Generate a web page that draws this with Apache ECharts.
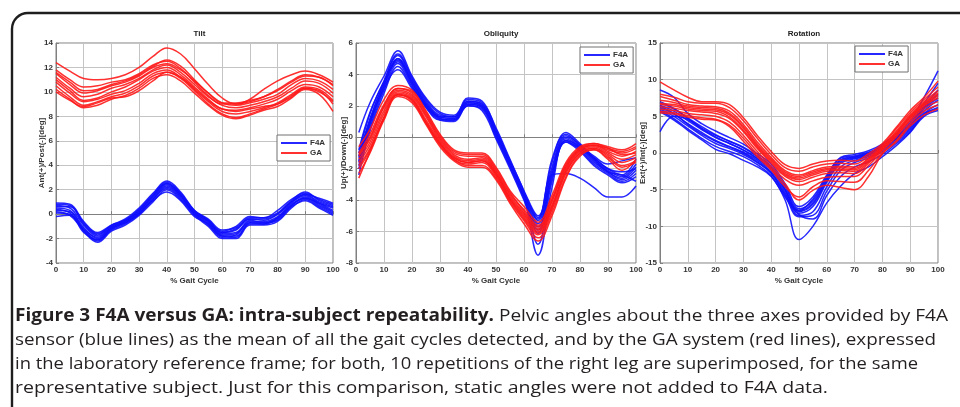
<!DOCTYPE html>
<html><head><meta charset="utf-8">
<script src="https://cdn.jsdelivr.net/npm/echarts@6/dist/echarts.min.js"></script>
<style>html,body{margin:0;padding:0;background:#fff}#c{width:960px;height:407px}</style>
</head><body><div id="c"></div>
<script>
// ---------- DATA ----------
const gaitPct  = [0,5,10,15,20,25,30,35,40,45,50,55,60,65,70,75,80,85,90,95,100];
const obliqPct = [1,5,10,15,20,25,30,35,40,45,50,55,60,65,70,75,80,85,90,95,100];

const panelTitles = ['Tilt', 'Obliquity', 'Rotation'];
const yNames = ['Ant(+)/Post(-)[deg]', 'Up(+)/Down(-)[deg]', 'Ext(+)/Int(-)[deg]'];
const xName = '% Gait Cycle';
const seriesNames = ['F4A', 'GA'];
const tiltTicks  = [-4, 14, 2];
const obliqTicks = [-8, 6, 2];
const rotTicks   = [-15, 15, 5];
const xTicks     = [0, 100, 10];

const tiltF4A = [
  [0.9, 0.8,-0.6,-1.5,-0.9,-0.4, 0.5, 1.7, 2.7, 1.8, 0.3,-0.5,-1.4,-1.0,-0.2,-0.3, 0.3, 1.2, 1.7, 1.2, 0.8],
  [0.7, 0.5,-0.9,-1.8,-1.0,-0.6, 0.3, 1.5, 2.5, 1.6, 0.2,-0.6,-1.5,-1.2,-0.4,-0.5, 0.0, 1.0, 1.6, 1.0, 0.6],
  [0.5, 0.3,-1.1,-2.0,-1.1,-0.6, 0.2, 1.4, 2.4, 1.5, 0.1,-0.7,-1.6,-1.5,-0.6,-0.6,-0.2, 0.9, 1.5, 0.9, 0.3],
  [0.3, 0.2,-1.3,-2.2,-1.3,-0.8, 0.0, 1.2, 2.2, 1.4, 0.0,-0.9,-1.8,-1.8,-0.8,-0.8,-0.4, 0.7, 1.4, 0.8, 0.2],
  [0.1, 0.0,-1.4,-2.3,-1.4,-0.9,-0.1, 1.0, 2.0, 1.2,-0.1,-1.0,-2.0,-2.0,-0.9,-0.9,-0.6, 0.5, 1.2, 0.6, 0.0],
  [-0.2,-0.1,-1.5,-2.1,-1.2,-0.7, 0.1, 1.1, 1.8, 1.1,-0.2,-0.8,-1.9,-1.7,-0.7,-0.7,-0.5, 0.6, 1.1, 0.5,-0.1],
  [0.6, 0.6,-0.8,-1.7,-0.9,-0.5, 0.4, 1.6, 2.6, 1.7, 0.3,-0.4,-1.3,-1.1,-0.3,-0.3, 0.1, 1.1, 1.8, 1.1, 0.7],
  [0.4, 0.1,-1.2,-1.9,-1.1,-0.7, 0.1, 1.3, 2.3, 1.5, 0.1,-0.6,-1.7,-1.6,-0.5,-0.7,-0.3, 0.8, 1.3, 0.9, 0.5],
  [0.8, 0.7,-0.7,-1.6,-1.0,-0.5, 0.3, 1.5, 2.5, 1.6, 0.2,-0.5,-1.5,-1.3,-0.4,-0.4, 0.0, 1.0, 1.6, 1.3, 0.9],
  [0.2,-0.1,-1.3,-2.1,-1.2,-0.7, 0.0, 1.2, 2.1, 1.3, 0.0,-0.8,-1.8,-1.9,-0.7,-0.8,-0.3, 0.7, 1.3, 0.7, 0.1]
];
const tiltGA = [
  [12.4,11.7,11.1,11.0,11.1,11.4,12.0,12.9,13.6,13.1,11.9,10.6, 9.5, 9.0, 9.2, 9.6,10.2,10.9,11.4,11.2,10.6],
  [11.8,11.0,10.4,10.5,10.8,11.0,11.5,12.2,12.5,11.9,10.8, 9.7, 9.0, 9.0, 9.4,10.2,10.9,11.4,11.7,11.4,10.8],
  [11.5,10.6, 9.9,10.1,10.5,10.8,11.3,12.0,12.3,11.8,10.9, 9.9, 9.1, 8.9, 9.1, 9.4, 9.8,10.6,11.1,10.9,10.2],
  [11.2,10.3, 9.6, 9.8,10.3,10.6,11.1,11.8,12.2,11.6,10.6, 9.6, 8.9, 8.7, 8.9, 9.2, 9.6,10.3,10.9,10.7, 9.9],
  [11.0,10.1, 9.3, 9.5,10.0,10.4,11.0,11.7,12.0,11.4,10.4, 9.4, 8.6, 8.5, 8.7, 9.0, 9.4,10.1,10.6,10.4, 9.6],
  [10.8, 9.9, 9.2, 9.4, 9.8,10.1,10.7,11.5,11.8,11.2,10.2, 9.2, 8.4, 8.2, 8.4, 8.7, 9.1, 9.8,10.4,10.2, 9.3],
  [10.5, 9.6, 8.9, 9.2, 9.6, 9.9,10.5,11.3,11.6,11.1,10.1, 9.0, 8.2, 7.9, 8.2, 8.6, 9.0, 9.7,10.3,10.1, 9.0],
  [10.2, 9.4, 8.7, 8.9, 9.4, 9.7,10.3,11.1,11.4,10.9, 9.9, 8.9, 8.1, 7.8, 8.1, 8.5, 8.8, 9.5,10.2, 9.8, 8.4],
  [10.0, 9.3, 8.8, 9.1, 9.5, 9.6,10.1,10.9,11.6,11.2,10.3, 9.3, 8.6, 8.4, 8.6, 8.8, 9.0, 9.6,10.3,10.0, 9.2],
  [11.6,10.8,10.1,10.2,10.6,10.9,11.4,12.1,12.6,12.1,11.0, 9.9, 9.1, 9.1, 9.3, 9.6,10.1,10.8,11.3,11.2,10.5]
];
const obliqF4A = [
  [0.3, 2.2, 3.9, 5.5, 3.9, 2.5, 1.6, 1.4, 2.4, 2.2, 0.6,-1.4,-3.4,-5.0,-1.6, 0.3,-0.4,-1.3,-2.0,-2.4,-1.4],
  [-1.0, 1.5, 3.6, 5.2, 3.7, 2.3, 1.4, 1.3, 2.3, 2.1, 0.4,-1.6,-3.6,-5.3,-1.9, 0.1,-0.5,-1.4,-2.1,-2.5,-1.7],
  [-1.3, 1.2, 3.4, 5.0, 3.5, 2.1, 1.3, 1.2, 2.2, 2.0, 0.3,-1.7,-3.7,-5.5,-2.1, 0.0,-0.6,-1.5,-2.2,-2.6,-1.9],
  [-1.6, 0.9, 3.2, 4.9, 3.4, 2.0, 1.2, 1.1, 2.1, 1.9, 0.2,-1.8,-3.8,-5.7,-2.3,-0.1,-0.7,-1.6,-2.2,-2.7,-2.1],
  [-2.0, 0.6, 3.0, 4.7, 3.3, 1.9, 1.1, 1.1, 2.0, 1.8, 0.0,-1.9,-3.9,-5.9,-2.4,-0.2,-0.8,-1.7,-2.3,-2.8,-2.3],
  [-2.4, 0.4, 2.8, 4.5, 3.2, 1.9, 1.1, 1.0, 2.0, 1.7,-0.1,-2.0,-4.0,-6.1,-2.6,-0.3,-0.9,-1.8,-2.4,-2.9,-2.5],
  [-1.2, 1.0, 3.1, 4.3, 3.1, 2.0, 1.3, 1.3, 2.5, 2.3, 0.5,-1.5,-3.5,-6.8,-2.8,-0.3,-0.7,-1.3,-2.0,-2.2,-2.0],
  [-1.8, 0.8, 3.3, 5.0, 3.6, 2.2, 1.3, 1.2, 2.2, 2.0, 0.2,-1.7,-3.8,-7.5,-3.2,-0.2,-0.6,-1.4,-2.2,-2.4,-2.8],
  [-0.8, 1.6, 3.5, 4.8, 3.5, 2.1, 1.2, 1.1, 2.1, 1.9, 0.1,-1.8,-3.6,-5.2,-2.4,-2.3,-2.6,-3.2,-3.8,-3.8,-3.1],
  [-1.5, 1.1, 3.5, 5.3, 3.8, 2.4, 1.5, 1.3, 2.3, 2.1, 0.4,-1.5,-3.5,-5.1,-1.4, 0.2,-0.5,-1.2,-1.7,-1.5,-1.3]
];
const obliqGA = [
  [-0.6, 0.5, 2.4, 3.3, 3.0, 1.7, 0.2,-0.8,-1.0,-1.0,-1.9,-3.4,-4.4,-5.4,-3.7,-1.6,-0.6,-0.4,-0.6,-0.8,-0.4],
  [-1.0, 0.2, 2.1, 3.1, 2.8, 1.5, 0.0,-1.0,-1.2,-1.2,-2.1,-3.6,-4.6,-5.6,-3.9,-1.8,-0.7,-0.5,-0.8,-1.0,-0.7],
  [-1.2,-0.1, 1.9, 3.0, 2.7, 1.4,-0.1,-1.1,-1.4,-1.3,-2.2,-3.7,-4.8,-5.8,-4.1,-1.9,-0.8,-0.5,-0.9,-1.2,-0.9],
  [-1.4,-0.3, 1.7, 2.9, 2.6, 1.3,-0.2,-1.2,-1.5,-1.4,-2.3,-3.8,-4.9,-5.9,-4.3,-2.1,-0.9,-0.6,-1.0,-1.4,-1.1],
  [-1.6,-0.5, 1.5, 2.8, 2.5, 1.1,-0.3,-1.3,-1.6,-1.5,-2.4,-3.9,-5.0,-6.0,-4.4,-2.2,-1.0,-0.7,-1.1,-1.6,-1.3],
  [-1.8,-0.7, 1.3, 2.7, 2.4, 1.0,-0.4,-1.4,-1.7,-1.6,-2.5,-4.0,-5.2,-6.2,-4.6,-2.3,-1.0,-0.7,-1.2,-1.8,-1.5],
  [-2.0,-0.8, 1.2, 2.7, 2.3, 0.9,-0.5,-1.4,-1.8,-1.8,-2.6,-4.1,-5.3,-6.4,-4.8,-2.5,-1.1,-0.8,-1.3,-1.9,-1.6],
  [-2.3,-1.0, 1.1, 2.6, 2.2, 0.8,-0.6,-1.5,-1.9,-1.9,-2.7,-4.2,-5.5,-6.6,-5.0,-2.6,-1.2,-0.8,-1.4,-2.1,-1.4],
  [-2.6,-0.9, 1.2, 2.7, 2.4, 0.9,-0.4,-1.3,-1.6,-1.5,-2.3,-3.9,-5.1,-6.1,-4.5,-2.0,-0.8,-0.5,-0.7,-1.1,-1.0],
  [-1.1, 0.0, 2.0, 3.1, 2.9, 1.6, 0.1,-0.9,-1.1,-1.1,-2.0,-3.5,-4.7,-5.7,-4.0,-1.7,-0.7,-0.4,-0.7,-0.9,-0.6]
];
const rotF4A = [
  [8.6, 7.6, 5.4, 4.0, 3.0, 2.1, 1.2,-0.1,-1.5,-4.2, -7.3, -6.0,-3.0,-0.6,-0.2, 0.3, 1.2, 2.6, 4.4, 7.6,11.2],
  [2.9, 5.0, 4.6, 3.4, 2.4, 1.6, 0.8,-0.4,-1.8,-4.5, -7.6, -6.5,-3.4,-0.9,-0.5, 0.0, 1.0, 2.3, 4.1, 6.8, 9.5],
  [6.8, 6.0, 4.8, 3.6, 2.5, 1.6, 0.7,-0.5,-2.0,-4.9, -7.9, -6.8,-3.6,-1.0,-0.6,-0.1, 0.8, 2.1, 3.8, 6.2, 8.0],
  [6.5, 5.7, 4.4, 3.2, 2.1, 1.3, 0.4,-0.8,-2.3,-5.1, -8.2, -7.3,-4.0,-1.4,-0.8,-0.3, 0.6, 1.9, 3.5, 5.7, 7.2],
  [6.2, 5.3, 4.0, 2.8, 1.7, 0.9, 0.1,-1.0,-2.6,-5.4, -8.5, -8.0,-4.6,-1.9,-1.0,-0.5, 0.4, 1.7, 3.3, 5.4, 6.6],
  [6.0, 5.0, 3.7, 2.4, 1.3, 0.6,-0.2,-1.3,-2.8,-5.8, -8.7, -8.5,-5.2,-2.4,-1.3,-0.7, 0.2, 1.5, 3.1, 5.2, 6.2],
  [5.8, 4.7, 3.3, 2.0, 0.9, 0.2,-0.5,-1.6,-3.1,-6.4,-11.8,-10.0,-6.8,-4.5,-2.8,-1.9,-0.5, 1.0, 2.8, 5.0, 5.8],
  [7.0, 6.1, 4.7, 3.3, 2.2, 1.3, 0.4,-0.7,-2.2,-5.0, -8.0, -7.0,-3.8,-1.2,-0.7,-0.2, 0.7, 2.0, 3.6, 6.0, 7.5],
  [6.4, 5.4, 3.9, 2.6, 1.6, 0.8, 0.0,-1.2,-2.7,-5.6, -7.8, -6.3,-3.2,-0.7,-0.4, 0.1, 0.9, 2.2, 3.9, 6.4, 8.6],
  [5.6, 4.5, 3.1, 1.8, 0.5,-0.1,-1.0,-1.9,-3.2,-6.0, -8.4, -9.0,-5.8,-3.2,-1.9,-1.2,-0.2, 1.3, 2.9, 5.3, 6.0]
];
const rotGA = [
  [9.7, 8.6, 7.6, 7.0, 7.0, 6.6, 4.8, 2.4, 0.2,-1.6,-2.1,-1.5,-1.1,-1.0,-1.1,-0.1, 1.3, 3.5, 5.8, 7.6, 9.8],
  [8.0, 7.6, 7.0, 6.8, 6.8, 6.2, 4.4, 2.0,-0.2,-2.0,-2.5,-1.9,-1.5,-1.4,-1.5,-0.4, 1.1, 3.3, 5.5, 7.3, 9.0],
  [7.7, 7.2, 6.6, 6.4, 6.3, 5.7, 3.9, 1.5,-0.6,-2.4,-3.0,-2.4,-1.9,-1.8,-1.9,-0.7, 0.9, 3.0, 5.2, 7.0, 8.5],
  [6.8, 6.6, 6.2, 6.0, 5.9, 5.2, 3.4, 1.0,-1.0,-2.8,-3.4,-2.8,-2.3,-2.2,-2.3,-1.0, 0.7, 2.7, 4.9, 6.7, 8.0],
  [6.3, 6.1, 5.8, 5.6, 5.4, 4.7, 2.9, 0.6,-1.4,-3.2,-3.9,-3.3,-2.8,-2.7,-2.8,-1.4, 0.5, 2.4, 4.6, 6.4, 7.5],
  [6.0, 5.8, 5.4, 5.2, 5.0, 4.2, 2.4, 0.2,-1.8,-3.6,-4.4,-3.8,-3.3,-3.2,-3.2,-1.7, 0.3, 2.2, 4.4, 6.1, 7.0],
  [5.7, 5.5, 5.1, 4.8, 4.6, 3.8, 2.0,-0.2,-2.1,-4.2,-6.4,-5.1,-4.4,-4.7,-5.0,-3.2,-0.1, 1.7, 4.0, 5.7, 6.5],
  [5.5, 5.3, 4.9, 4.6, 4.5, 3.6, 1.6,-0.5,-2.3,-4.6,-6.0,-4.6,-3.8,-3.9,-4.0,-2.4, 0.0, 1.5, 3.7, 5.2, 6.0],
  [6.6, 6.4, 6.0, 5.8, 5.7, 4.9, 3.1, 0.8,-1.2,-3.0,-3.6,-3.0,-2.5,-2.4,-2.5,-1.2, 0.6, 2.6, 4.8, 6.5, 7.8],
  [7.2, 6.9, 6.4, 6.2, 6.1, 5.4, 3.6, 1.2,-0.8,-2.6,-3.2,-2.6,-2.1,-2.0,-2.1,-0.8, 0.8, 2.8, 5.0, 6.8, 8.2]
];

const captionBold = 'Figure 3 F4A versus GA: intra-subject repeatability.';
const captionLines = [
  'Pelvic angles about the three axes provided by F4A',
  'sensor (blue lines) as the mean of all the gait cycles detected, and by the GA system (red lines), expressed',
  'in the laboratory reference frame; for both, 10 repetitions of the right leg are superimposed, for the same',
  'representative subject. Just for this comparison, static angles were not added to F4A data.'
];

// ---------- LAYOUT / STYLE ----------
const BLUE = '#1010ff', RED = '#ff1a1a';
const grids = [
  {left: 56,  top: 43, width: 277, height: 220},
  {left: 356, top: 43, width: 280, height: 220},
  {left: 660, top: 43, width: 278, height: 220}
];
const legendPos = [
  {left: 277, top: 135},
  {left: 580, top: 47},
  {left: 855, top: 46}
];
const yNameGaps = [10, 8, 13];
const panels = [
  {ticks: tiltTicks,  x: gaitPct,  blue: tiltF4A,  red: tiltGA},
  {ticks: obliqTicks, x: obliqPct, blue: obliqF4A, red: obliqGA},
  {ticks: rotTicks,   x: gaitPct,  blue: rotF4A,   red: rotGA}
];
const FONT = '"Liberation Sans", Arial, sans-serif';
const tickFont = {fontFamily: FONT, fontSize: 8, fontWeight: 'bold', color: '#333'};
const nameFont = {fontFamily: FONT, fontSize: 8, fontWeight: 'bold', color: '#333'};

const option = {
  animation: false,
  backgroundColor: '#fff',
  grid: grids.map(g => Object.assign({show: true, borderColor: '#808080', borderWidth: 1, backgroundColor: '#fff'}, g)),
  title: panelTitles.map((t, i) => ({
    text: t, left: grids[i].left + grids[i].width / 2, top: 25, textAlign: 'center',
    textStyle: {fontFamily: FONT, fontSize: 8, fontWeight: 'bold', color: '#222'}
  })),
  legend: legendPos.map(p => ({
    left: p.left, top: p.top, orient: 'vertical', data: seriesNames,
    padding: [4, 5, 4, 3], itemGap: 2, itemWidth: 26, itemHeight: 10,
    borderColor: '#707070', borderWidth: 1, backgroundColor: '#fff', borderRadius: 0,
    itemStyle: {opacity: 0, borderWidth: 0},
    lineStyle: {width: 2},
    textStyle: {fontFamily: FONT, fontSize: 8, fontWeight: 'bold', color: '#333', padding: [0,0,0,-2]},
    selectedMode: false
  })),
  xAxis: grids.map((g, i) => ({
    type: 'value', gridIndex: i, min: xTicks[0], max: xTicks[1], interval: xTicks[2],
    name: xName, nameLocation: 'middle', nameGap: 14, nameMoveOverlap: false,
    nameTextStyle: nameFont,
    axisLine: {show: true, lineStyle: {color: '#808080', width: 1}},
    axisTick: {show: true, inside: true, length: 3, lineStyle: {color: '#808080'}},
    axisLabel: Object.assign({margin: 3}, tickFont),
    splitLine: {show: true, lineStyle: {color: '#c4c4c4', width: 1}}
  })),
  yAxis: panels.map((p, i) => ({
    type: 'value', gridIndex: i, min: p.ticks[0], max: p.ticks[1], interval: p.ticks[2],
    name: yNames[i], nameLocation: 'middle', nameGap: yNameGaps[i], nameMoveOverlap: false,
    nameTextStyle: nameFont,
    axisLine: {show: true, lineStyle: {color: '#808080', width: 1}},
    axisTick: {show: true, inside: true, length: 3, lineStyle: {color: '#808080'}},
    axisLabel: Object.assign({margin: 3}, tickFont),
    splitLine: {show: true, lineStyle: {color: '#c4c4c4', width: 1}}
  })),
  series: []
};

panels.forEach((p, i) => {
  [[p.blue, seriesNames[0], BLUE], [p.red, seriesNames[1], RED]].forEach(([set, name, color]) => {
    set.forEach(vals => {
      option.series.push({
        type: 'line', name: name, xAxisIndex: i, yAxisIndex: i,
        data: vals.map((v, k) => [p.x[k], v]),
        smooth: 0.4, symbol: 'none', color: color,
        lineStyle: {color: color, width: 1.5, opacity: 0.9},
        emphasis: {disabled: true}, silent: true
      });
    });
  });
});

// ---------- CAPTION + FRAME ----------
const capFamily = '"Open Sans", "Noto Sans", sans-serif';
const capSize = 17;
const cv = document.createElement('canvas').getContext('2d');
function tw(t, weight) { cv.font = weight + ' ' + capSize + 'px ' + capFamily; return cv.measureText(t).width; }
const capLeft = 15;
const capRight = [948, 936, 918, 828];
const capY = [316, 340, 364, 388];
const graphic = [{
  type: 'rect', shape: {x: 12, y: 13, width: 1000, height: 500, r: 16},
  style: {fill: 'none', stroke: '#1e1e1e', lineWidth: 2.4}, silent: true, z: 100
}];
const txtStyle = (t, w) => ({text: t, fontFamily: capFamily, fontSize: capSize, fontWeight: w, fill: '#231f20', verticalAlign: 'middle', align: 'left'});
{
  const wb = tw(captionBold, 'bold'), wn = tw(' ' + captionLines[0], 'normal');
  const s = (capRight[0] - capLeft) / (wb + wn);
  graphic.push({type: 'text', x: capLeft, y: capY[0], scaleX: s, style: txtStyle(captionBold, 'bold'), silent: true});
  graphic.push({type: 'text', x: capLeft + s * wb, y: capY[0], scaleX: s, style: txtStyle(' ' + captionLines[0], 'normal'), silent: true});
}
for (let k = 1; k < 4; k++) {
  const s = (capRight[k] - capLeft) / tw(captionLines[k], 'normal');
  graphic.push({type: 'text', x: capLeft, y: capY[k], scaleX: s, style: txtStyle(captionLines[k], 'normal'), silent: true});
}
option.graphic = graphic;

const chart = echarts.init(document.getElementById('c'), null, {renderer: 'canvas'});
chart.setOption(option);
</script>
</body></html>
